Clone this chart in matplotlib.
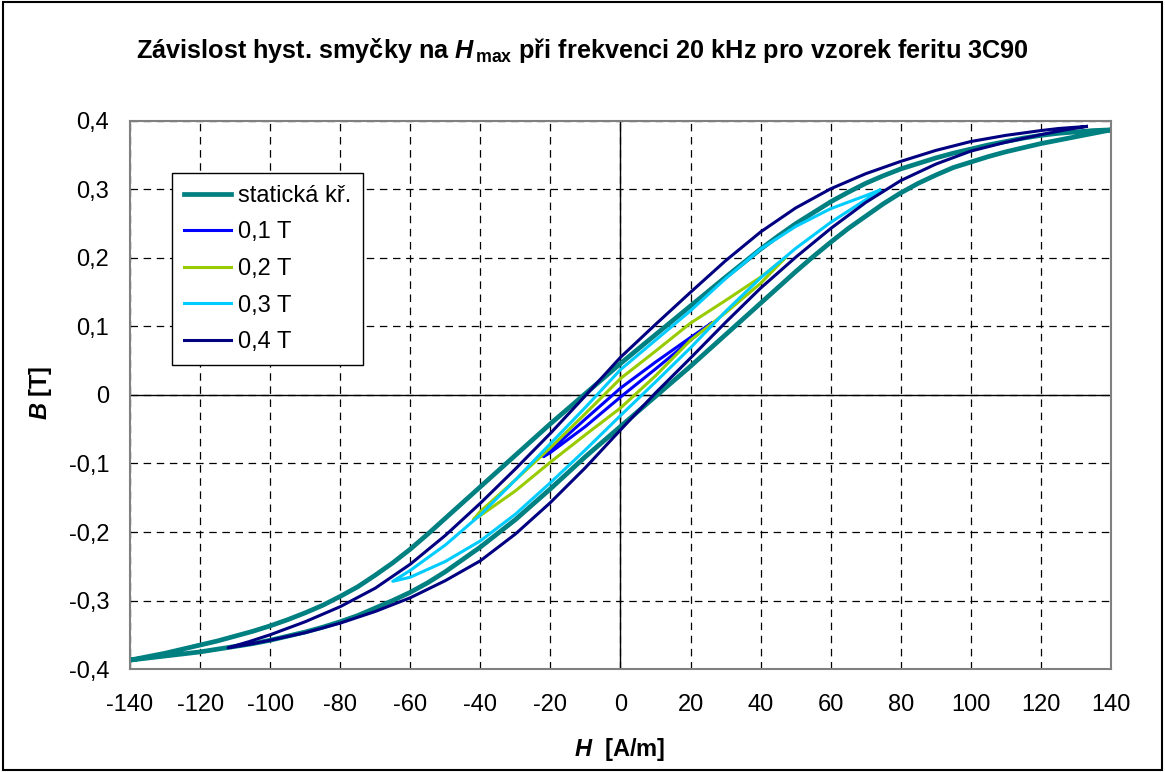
import matplotlib.pyplot as plt
from matplotlib.patches import Rectangle

plt.rcParams['font.family'] = ['Liberation Sans', 'DejaVu Sans']
plt.rcParams['mathtext.fontset'] = 'custom'
plt.rcParams['mathtext.it'] = 'Liberation Sans:bold:italic'
plt.rcParams['mathtext.rm'] = 'Liberation Sans:bold'
plt.rcParams['mathtext.bf'] = 'Liberation Sans:bold'

# statická křivka - horní větev (od +Hmax) a dolní větev (od -Hmax)
static_H = [140, 135, 130, 125, 120, 115, 110, 105, 100, 95, 90, 85, 80, 75, 70, 65, 60, 55, 50, 45, 40,
            30, 20, 10, 0, -10, -20, -30, -40, -45, -50, -55, -60, -65, -70, -75, -80, -85, -90, -95,
            -100, -105, -110, -115, -120, -125, -130, -135, -140,
            -135, -130, -125, -120, -115, -110, -105, -100, -95, -90, -85, -80, -75, -70, -65, -60, -55,
            -50, -45, -40, -30, -20, -10, 0, 10, 20, 30, 40, 45, 50, 55, 60, 65, 70, 75, 80, 85, 90, 95,
            100, 105, 110, 115, 120, 125, 130, 135, 140]
static_B = [0.387, 0.386, 0.384, 0.382, 0.379, 0.375, 0.370, 0.365, 0.359, 0.353, 0.346, 0.338, 0.330, 0.320,
            0.309, 0.296, 0.282, 0.266, 0.250, 0.232, 0.213, 0.172, 0.130, 0.088, 0.046, 0.002, -0.042,
            -0.088, -0.134, -0.157, -0.180, -0.203, -0.225, -0.245, -0.263, -0.280, -0.294, -0.307,
            -0.318, -0.328, -0.337, -0.345, -0.352, -0.359, -0.365, -0.371, -0.377, -0.382, -0.387,
            -0.384, -0.381, -0.378, -0.375, -0.371, -0.367, -0.363, -0.358, -0.352, -0.346, -0.339,
            -0.331, -0.322, -0.311, -0.300, -0.288, -0.274, -0.258, -0.240, -0.222, -0.182, -0.137,
            -0.090, -0.046, -0.002, 0.042, 0.088, 0.134, 0.157, 0.180, 0.202, 0.223, 0.243, 0.261,
            0.279, 0.295, 0.309, 0.321, 0.332, 0.340, 0.348, 0.355, 0.361, 0.367, 0.372, 0.377, 0.382, 0.387]

# 0,1 T
t01_H = [26, 20, 10, 0, -10, -22, -20, -10, 0, 10, 20, 26]
t01_B = [0.105, 0.084, 0.048, 0.010, -0.035, -0.090, -0.084, -0.046, -0.003, 0.038, 0.080, 0.105]

# 0,2 T
t02_H = [47, 40, 30, 20, 10, 0, -10, -20, -30, -40, -42,
         -40, -30, -20, -10, 0, 10, 20, 30, 40, 47]
t02_B = [0.200, 0.172, 0.138, 0.105, 0.064, 0.024, -0.027, -0.077, -0.124, -0.170, -0.182,
         -0.176, -0.140, -0.098, -0.058, -0.019, 0.028, 0.080, 0.120, 0.163, 0.200]

# 0,3 T
t03_H = [74, 70, 60, 50, 40, 30, 20, 10, 0, -10, -20, -30, -40, -50, -60, -65,
         -60, -50, -40, -30, -20, -10, 0, 10, 20, 30, 40, 50, 60, 70, 74]
t03_B = [0.299, 0.291, 0.272, 0.246, 0.213, 0.170, 0.123, 0.080, 0.037, -0.018, -0.071, -0.124, -0.175, -0.219, -0.256, -0.272,
         -0.266, -0.243, -0.213, -0.174, -0.128, -0.080, -0.030, 0.019, 0.069, 0.122, 0.171, 0.214, 0.252, 0.285, 0.299]

# 0,4 T
t04_H = [133, 125, 120, 110, 100, 90, 80, 70, 60, 50, 40, 30, 20, 10, 0,
         -10, -20, -30, -40, -50, -60, -70, -80, -90, -100, -106, -112,
         -106, -100, -90, -80, -70, -60, -50, -40, -30, -20, -10, 0,
         10, 20, 30, 40, 50, 60, 70, 80, 90, 100, 110, 120, 127, 133]
t04_B = [0.392, 0.389, 0.386, 0.379, 0.370, 0.357, 0.341, 0.323, 0.301, 0.273, 0.238, 0.196, 0.150, 0.103, 0.055,
         -0.001, -0.056, -0.108, -0.158, -0.205, -0.247, -0.282, -0.309, -0.331, -0.350, -0.360, -0.369,
         -0.364, -0.358, -0.347, -0.333, -0.316, -0.296, -0.271, -0.242, -0.203, -0.157, -0.106, -0.051,
         0.003, 0.054, 0.106, 0.156, 0.201, 0.243, 0.281, 0.313, 0.337, 0.356, 0.369, 0.380, 0.387, 0.392]

x_ticks = list(range(-140, 141, 20))
y_ticks = [-0.4, -0.3, -0.2, -0.1, 0, 0.1, 0.2, 0.3, 0.4]
y_labels = ['-0,4', '-0,3', '-0,2', '-0,1', '0', '0,1', '0,2', '0,3', '0,4']

fig = plt.figure(figsize=(11.65, 7.72), dpi=100)
ax = fig.add_axes([0.1116, 0.1334, 0.8420, 0.7099])

ax.plot(static_H, static_B, color='#008080', linewidth=3.4, label='statická kř.')
ax.plot(t01_H, t01_B, color='#0000FF', linewidth=2.2, label='0,1 T')
ax.plot(t02_H, t02_B, color='#99CC00', linewidth=2.2, label='0,2 T')
ax.plot(t03_H, t03_B, color='#00CCFF', linewidth=2.2, label='0,3 T')
ax.plot(t04_H, t04_B, color='#000080', linewidth=2.2, label='0,4 T')

ax.set_xlim(-140, 140)
ax.set_ylim(-0.4, 0.4)
ax.set_xticks(x_ticks)
ax.set_xticklabels([str(v) for v in x_ticks])
ax.set_yticks(y_ticks)
ax.set_yticklabels(y_labels)
ax.tick_params(axis='both', length=0, labelsize=17)
ax.tick_params(axis='x', pad=18)
ax.tick_params(axis='y', pad=15)

ax.grid(True, color='black', linestyle=(0, (6, 4.5)), linewidth=0.9, zorder=0)
ax.set_axisbelow(True)
ax.axhline(0, color='black', linewidth=1.0, zorder=1)
ax.axvline(0, color='black', linewidth=1.0, zorder=1)
for s in ax.spines.values():
    s.set_color('#808080')
    s.set_linewidth(1.5)

fig.text(0.532, 0.0207, '$H$  [A/m]', fontsize=17, fontweight='bold', ha='center', va='baseline')
fig.text(0.0345, 0.491, '$B$ [T]', fontsize=17, fontweight='bold', ha='center', va='center',
         rotation=90)
fig.text(0.5, 0.9249, 'Závislost hyst. smyčky na $H_{\\,\\rm max}$ při frekvenci 20 kHz pro vzorek feritu 3C90',
         fontsize=18.2, fontweight='bold', ha='center', va='baseline')

leg = ax.legend(loc='upper left', bbox_to_anchor=(0.043, 0.905), borderaxespad=0,
                fontsize=17, fancybox=False, framealpha=1, edgecolor='black',
                handlelength=2.0, handletextpad=0.3, labelspacing=0.62, borderpad=0.5)
leg.get_frame().set_linewidth(1.0)

fig.patches.append(Rectangle((0.003, 0.003), 0.994, 0.994, transform=fig.transFigure,
                             fill=False, edgecolor='black', linewidth=1.5))

fig.savefig('out.png', dpi=100)
